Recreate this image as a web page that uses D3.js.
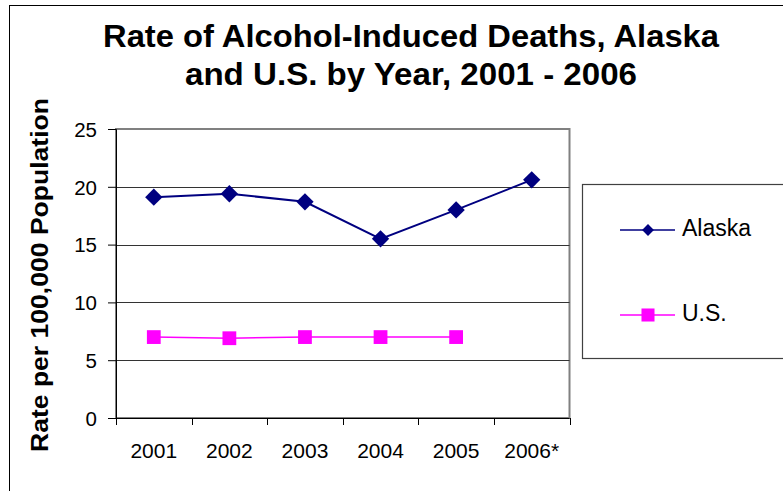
<!DOCTYPE html>
<html>
<head>
<meta charset="utf-8">
<script src="https://cdn.jsdelivr.net/npm/d3@7"></script>
<style>
  html, body { margin: 0; padding: 0; background: #fff; }
  svg { display: block; font-family: Arial, "Liberation Sans", sans-serif; }
</style>
</head>
<body>
<svg id="chart" width="783" height="491"></svg>
<script>
// Chart data
const years = ["2001", "2002", "2003", "2004", "2005", "2006*"];
const alaskaRates = [19.1, 19.4, 18.7, 15.5, 18.0, 20.6];
const usRates = [7.0, 6.9, 7.0, 7.0, 7.0];
const yTicks = [0, 5, 10, 15, 20, 25];
const seriesNames = ["Alaska", "U.S."];

const titleLines = ["Rate of Alcohol-Induced Deaths, Alaska", "and U.S. by Year, 2001 - 2006"];
const yLabel = "Rate per 100,000 Population";

const svg = d3.select("#chart");

// Outer chart frame
svg.append("rect")
  .attr("x", 9.5).attr("y", 5.5)
  .attr("width", 800).attr("height", 500)
  .attr("fill", "#fff").attr("stroke", "#000").attr("stroke-width", 1);

const plot = { left: 116, right: 569.5, top: 129, bottom: 418 };

const x = d3.scaleBand().domain(years).range([plot.left, plot.right]);
const y = d3.scaleLinear().domain([0, 25]).range([plot.bottom, plot.top]);

// Plot area border (top/right in gray)
svg.append("rect")
  .attr("x", plot.left).attr("y", plot.top)
  .attr("width", plot.right - plot.left).attr("height", plot.bottom - plot.top)
  .attr("fill", "none").attr("stroke", "#808080").attr("stroke-width", 2);

// Horizontal gridlines
svg.append("g")
  .selectAll("line")
  .data(yTicks.filter(d => d > 0 && d < 25))
  .join("line")
  .attr("x1", plot.left).attr("x2", plot.right)
  .attr("y1", d => Math.round(y(d)) + 0.5).attr("y2", d => Math.round(y(d)) + 0.5)
  .attr("stroke", "#333").attr("stroke-width", 1);

// Y axis
const yAxis = svg.append("g")
  .attr("transform", `translate(${plot.left},0)`)
  .call(d3.axisLeft(y).tickValues(yTicks).tickSize(8).tickPadding(11));
yAxis.select(".domain").attr("stroke", "#000");
yAxis.selectAll(".tick line").attr("stroke", "#000");
yAxis.selectAll("text").attr("font-size", 20.5).attr("fill", "#000")
  .attr("dy", "0.36em")
  .attr("font-family", "Arial, 'Liberation Sans', sans-serif");

// X axis: ticks sit between categories (band edges)
const xAxisG = svg.append("g").attr("transform", `translate(0,${plot.bottom})`);
xAxisG.append("line")
  .attr("x1", plot.left).attr("x2", plot.right)
  .attr("y1", 0.5).attr("y2", 0.5).attr("stroke", "#000");
const edges = years.map(d => x(d)).concat([plot.right]);
xAxisG.selectAll("line.tk").data(edges).join("line")
  .attr("class", "tk")
  .attr("x1", d => Math.round(d) + 0.5).attr("x2", d => Math.round(d) + 0.5)
  .attr("y1", 0).attr("y2", 7).attr("stroke", "#000");
xAxisG.selectAll("text").data(years).join("text")
  .attr("x", d => x(d) + x.bandwidth() / 2)
  .attr("y", 40)
  .attr("text-anchor", "middle")
  .attr("font-size", 21)
  .attr("fill", "#000")
  .text(d => d);

// Title
const titleLen = [616, 452];
svg.append("g").selectAll("text").data(titleLines).join("text")
  .attr("x", 411).attr("y", (d, i) => 47 + i * 38)
  .attr("text-anchor", "middle")
  .attr("font-size", 32).attr("font-weight", "bold")
  .attr("textLength", (d, i) => titleLen[i])
  .attr("lengthAdjust", "spacingAndGlyphs")
  .attr("fill", "#000")
  .text(d => d);

// Y axis label
svg.append("text")
  .attr("transform", "translate(48,275) rotate(-90)")
  .attr("text-anchor", "middle")
  .attr("font-size", 24).attr("font-weight", "bold")
  .attr("textLength", 354)
  .attr("lengthAdjust", "spacingAndGlyphs")
  .attr("fill", "#000")
  .text(yLabel);

const cx = d => x(d) + x.bandwidth() / 2;
const diamond = d3.symbol().type(d3.symbolSquare).size(150);
const square = d3.symbol().type(d3.symbolSquare).size(190);

// Alaska series
const alaskaData = alaskaRates.map((v, i) => ({ year: years[i], v }));
svg.append("path")
  .datum(alaskaData)
  .attr("fill", "none").attr("stroke", "#000080").attr("stroke-width", 2)
  .attr("d", d3.line().x(d => cx(d.year)).y(d => y(d.v)));
svg.append("g").selectAll("path").data(alaskaData).join("path")
  .attr("transform", d => `translate(${cx(d.year)},${y(d.v)}) rotate(45)`)
  .attr("d", diamond)
  .attr("fill", "#000080");

// U.S. series
const usData = usRates.map((v, i) => ({ year: years[i], v }));
svg.append("path")
  .datum(usData)
  .attr("fill", "none").attr("stroke", "#FF00FF").attr("stroke-width", 1.5)
  .attr("d", d3.line().x(d => cx(d.year)).y(d => y(d.v)));
svg.append("g").selectAll("path").data(usData).join("path")
  .attr("transform", d => `translate(${cx(d.year)},${y(d.v)})`)
  .attr("d", square)
  .attr("fill", "#FF00FF");

// Legend
const legend = svg.append("g");
legend.append("rect")
  .attr("x", 582.5).attr("y", 184.5)
  .attr("width", 260).attr("height", 174)
  .attr("fill", "#fff").attr("stroke", "#404040").attr("stroke-width", 1.2);

const legendItems = [
  { name: seriesNames[0], color: "#000080", ly: 230, mark: "diamond" },
  { name: seriesNames[1], color: "#FF00FF", ly: 315, mark: "square" }
];
legendItems.forEach(it => {
  legend.append("line")
    .attr("x1", 620).attr("x2", 675).attr("y1", it.ly).attr("y2", it.ly)
    .attr("stroke", it.color).attr("stroke-width", 1.5);
  legend.append("path")
    .attr("transform", it.mark === "diamond"
      ? `translate(648,${it.ly}) rotate(45)` : `translate(648,${it.ly})`)
    .attr("d", d3.symbol().type(d3.symbolSquare).size(it.mark === "diamond" ? 70 : 170)())
    .attr("fill", it.color);
  legend.append("text")
    .attr("x", 682).attr("y", it.ly + 5.5)
    .attr("font-size", 23).attr("fill", "#000")
    .text(it.name);
});
</script>
</body>
</html>
